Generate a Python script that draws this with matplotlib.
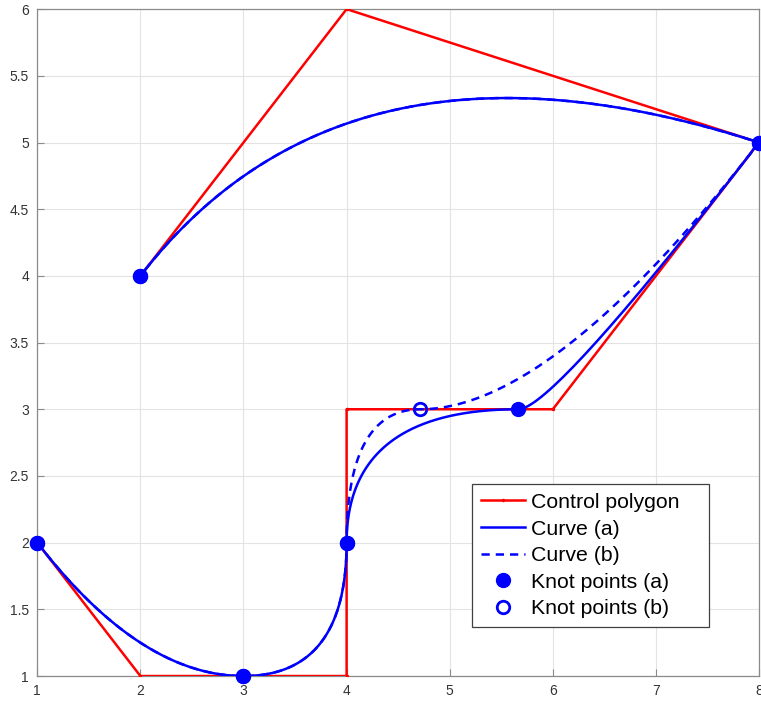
import numpy as np
import matplotlib
matplotlib.use("Agg")
import matplotlib.pyplot as plt

# Control polygon of the quadratic B-spline
ctrl_x = [1, 2, 4, 4, 6, 8, 4, 2]
ctrl_y = [2, 1, 1, 3, 3, 5, 6, 4]
degree = 2

# Knot vectors for the two curves (only the knot before the double knot differs)
knots_a = [0, 0, 0, 1, 2, 3, 3.2, 3.2, 4.2, 4.2, 4.2]
knots_b = [0, 0, 0, 1, 2, 3, 4.8, 4.8, 5.8, 5.8, 5.8]

x_ticks = [1, 2, 3, 4, 5, 6, 7, 8]
y_ticks = [1, 1.5, 2, 2.5, 3, 3.5, 4, 4.5, 5, 5.5, 6]


def de_boor(u, knots, pts, p):
    knots = np.asarray(knots, float)
    n = len(pts) - 1
    if u >= knots[n + 1]:
        k = n
    else:
        k = np.searchsorted(knots, u, side="right") - 1
    d = [pts[j + k - p].copy() for j in range(p + 1)]
    for r in range(1, p + 1):
        for j in range(p, r - 1, -1):
            i = j + k - p
            den = knots[i + p + 1 - r] - knots[i]
            a = 0.0 if den == 0 else (u - knots[i]) / den
            d[j] = (1 - a) * d[j - 1] + a * d[j]
    return d[p]


def curve(knots, pts, p, n=800):
    us = np.linspace(knots[p], knots[-p - 1], n)
    return np.array([de_boor(u, knots, pts, p) for u in us])


def knot_points(knots, pts, p):
    us = np.unique(knots)
    return np.array([de_boor(u, knots, pts, p) for u in us])


pts = np.column_stack([ctrl_x, ctrl_y]).astype(float)
ca = curve(knots_a, pts, degree)
cb = curve(knots_b, pts, degree)
ka = knot_points(knots_a, pts, degree)
kb = knot_points(knots_b, pts, degree)

plt.rcParams["font.family"] = ["Liberation Sans", "DejaVu Sans"]
fig = plt.figure(figsize=(7.61, 7.02), dpi=100)
ax = fig.add_axes([0.049, 0.037, 0.9484, 0.950])

ax.plot(ctrl_x, ctrl_y, color="#ff0000", lw=1.8, marker=".", ms=3,
        label="Control polygon", zorder=3)
ax.plot(ca[:, 0], ca[:, 1], color="#0000ff", lw=1.8, label="Curve (a)", zorder=4)
ax.plot(cb[:, 0], cb[:, 1], color="#0000ff", lw=1.8, ls=(0, (3.3, 2.4)),
        label="Curve (b)", zorder=4)
ax.plot(ka[:, 0], ka[:, 1], ls="none", marker="o", ms=10, mfc="#0000ff",
        mec="#0000ff", label="Knot points (a)", zorder=6, clip_on=False)
ax.plot(kb[:, 0], kb[:, 1], ls="none", marker="o", ms=9, mfc="none",
        mec="#0000ff", mew=2, label="Knot points (b)", zorder=5, clip_on=False)

ax.set_xlim(1, 8)
ax.set_ylim(1, 6)
ax.set_xticks(x_ticks)
ax.set_yticks(y_ticks)
ax.set_xticklabels([f"{v:g}" for v in x_ticks])
ax.set_yticklabels([f"{v:g}" for v in y_ticks])
ax.grid(True, color="#e3e3e3", lw=0.8)
ax.set_axisbelow(True)
for s in ax.spines.values():
    s.set_color("#8a8a8a")
    s.set_linewidth(0.9)
ax.tick_params(direction="in", length=5, width=0.8, color="#8a8a8a",
               labelsize=10, labelcolor="#333333", pad=6)

leg = ax.legend(loc="upper left", bbox_to_anchor=(0.602, 0.0765, 0.328, 0.2115),
                mode="expand", fontsize=15.3,
                frameon=True, fancybox=False, framealpha=1, edgecolor="#404040",
                handlelength=2.1, handletextpad=0.25, labelspacing=0.36,
                borderpad=0.42, borderaxespad=0)
leg.get_frame().set_linewidth(0.9)
leg.set_zorder(10)

fig.savefig("out.png", dpi=100)
